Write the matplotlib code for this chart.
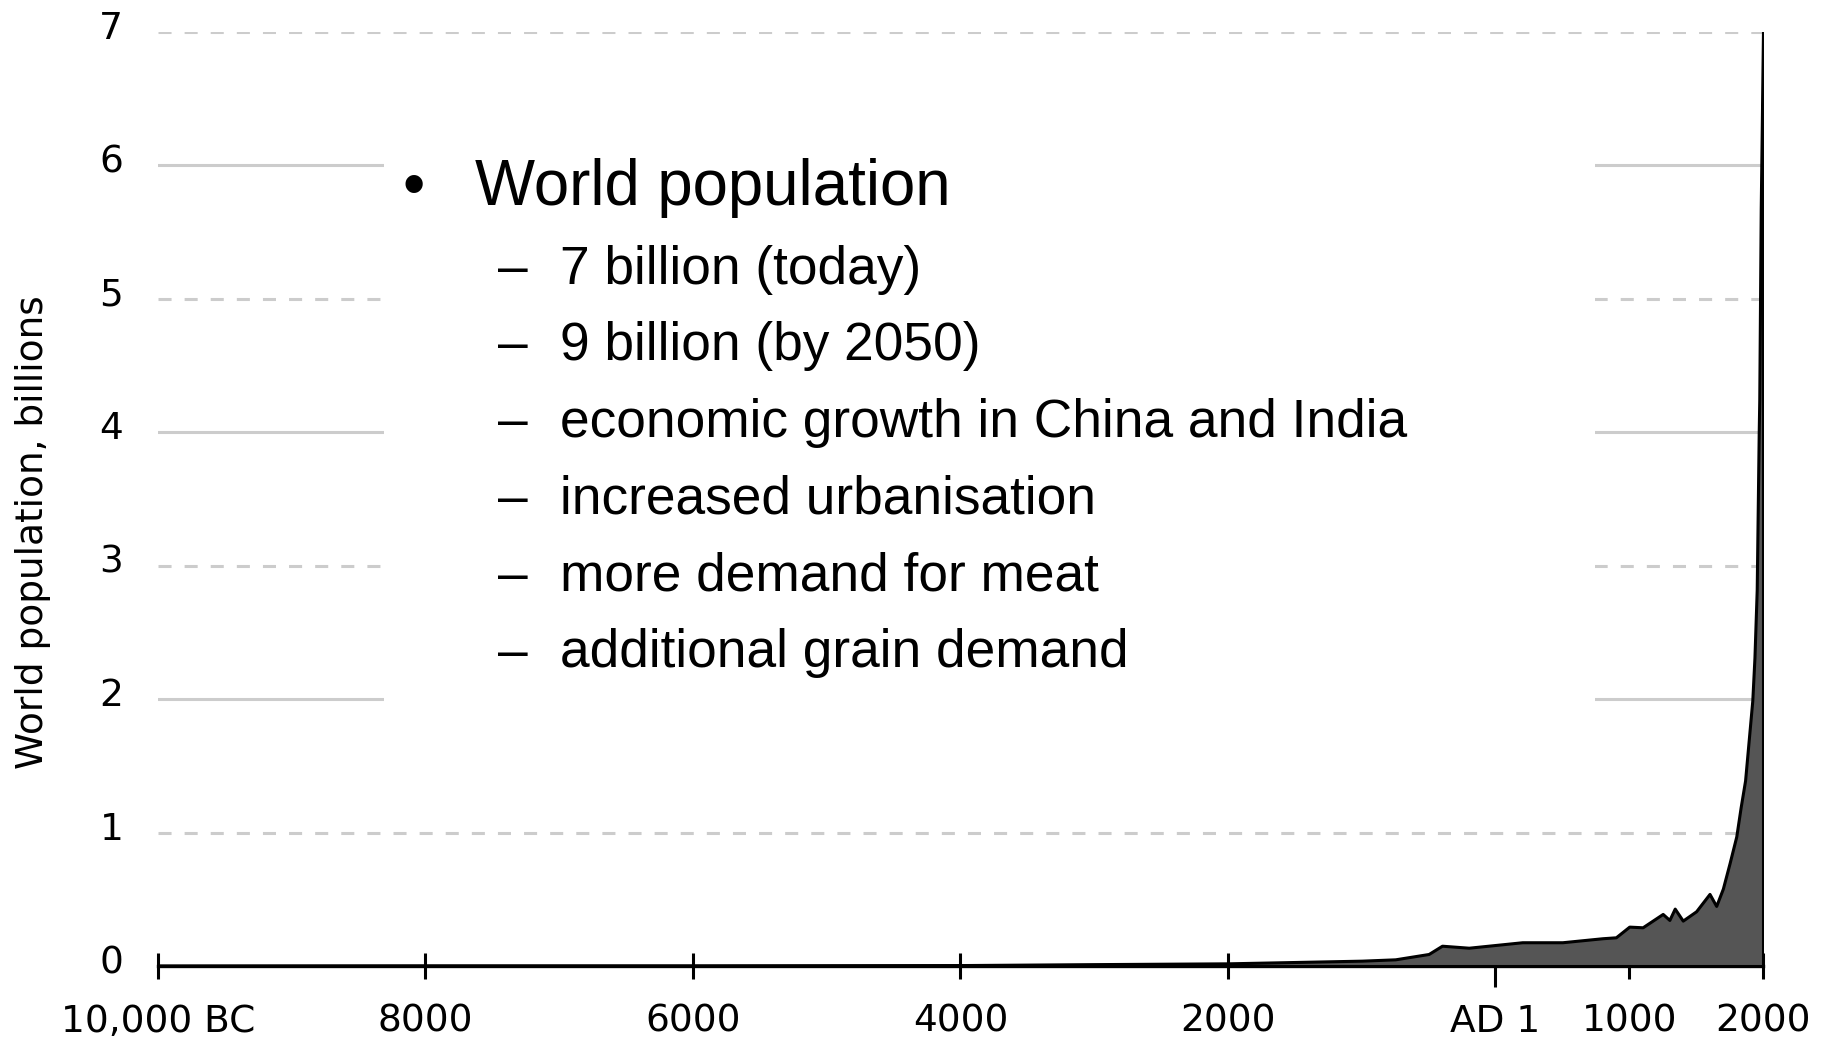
import matplotlib
matplotlib.use("Agg")
import matplotlib.pyplot as plt
from matplotlib.patches import Rectangle
from matplotlib.transforms import ScaledTranslation

# world population estimates (billions)
years = [-10000, -8000, -6000, -4000, -3000, -2000, -1000, -750, -500, -400,
         -200, 200, 500, 800, 900, 1000, 1100, 1250, 1300, 1340, 1400, 1500,
         1600, 1650, 1700, 1750, 1800, 1833, 1866, 1920, 1936, 1953, 1968,
         1972, 1983, 2000]
population = [0.004, 0.005, 0.005, 0.007, 0.014, 0.02, 0.04, 0.05, 0.09, 0.152,
              0.137, 0.178, 0.178, 0.208, 0.215, 0.295, 0.29, 0.39, 0.345, 0.43,
              0.34, 0.41, 0.54, 0.45, 0.58, 0.77, 0.97, 1.19, 1.39, 1.99, 2.31,
              2.82, 4.0, 4.24, 5.67, 7.0]

x_ticks = [-10000, -8000, -6000, -4000, -2000, 0, 1000, 2000]
x_labels = ["10,000 BC", "8000", "6000", "4000", "2000", "AD 1", "1000", "2000"]
y_ticks = [0, 1, 2, 3, 4, 5, 6, 7]

heading = "World population"
points = ["7 billion (today)", "9 billion (by 2050)",
          "economic growth in China and India", "increased urbanisation",
          "more demand for meat", "additional grain demand"]

W, H = 1825, 1042
plt.rcParams["lines.scale_dashes"] = False
fig = plt.figure(figsize=(W / 100, H / 100), dpi=100)
ax = fig.add_axes([158 / W, 1 - 966 / H, (1763 - 158) / W, (966 - 31.6) / H])

ax.set_xlim(-10000, 2000)
ax.set_ylim(0, 7)

# gridlines: dashed on odd values, solid on even
for v in y_ticks[1:]:
    if v % 2:
        ax.axhline(v, color="#cccccc", lw=2.2, ls=(0, (9.4, 9.4)), zorder=0.5)
    else:
        ax.axhline(v, color="#cccccc", lw=2.2, zorder=0.5)

# white slide text box covering the middle of the grid
ax.add_patch(Rectangle((384 / W, 1 - 760 / H), (1595 - 384) / W, (760 - 70) / H,
                       transform=fig.transFigure, facecolor="white",
                       edgecolor="none", zorder=0.8))

ax.fill_between(years, population, 0, facecolor="#555555", edgecolor="black",
                lw=2.2, zorder=3)

for s in ["top", "right", "left"]:
    ax.spines[s].set_visible(False)
ax.spines["bottom"].set_linewidth(2.4)
ax.spines["bottom"].set_zorder(2.5)

ax.set_xticks(x_ticks)
ax.set_xticklabels(x_labels)
ax.set_yticks(y_ticks)
ax.tick_params(axis="x", direction="inout", length=18.7, width=2.2,
               pad=18, labelsize=27)
ax.tick_params(axis="y", length=0, pad=25, labelsize=27)
ax.xaxis.get_major_ticks()[5].tick1line.set_markersize(30)

# y labels sit a little above their gridlines
shift = ScaledTranslation(0, 5 / 72, fig.dpi_scale_trans)
for lab in ax.get_yticklabels():
    lab.set_transform(lab.get_transform() + shift)

fig.text(33 / W, 1 - 532 / H, "World population, billions", rotation=90,
         ha="center", va="center", fontsize=27)

# slide bullet text
sans = "Liberation Sans"
fig.text(414 / W, 1 - 206 / H, "\u2022", fontsize=45.8, family=sans,
         ha="center", va="baseline")
fig.text(475 / W, 1 - 205 / H, heading, fontsize=45.8, family=sans,
         ha="left", va="baseline")
for i, txt in enumerate(points):
    yb = 1 - (283.5 + i * 76.8) / H
    fig.text(513 / W, yb, "\u2013", fontsize=38.3, family=sans,
             ha="center", va="baseline")
    fig.text(560 / W, yb, txt, fontsize=38.3, family=sans,
             ha="left", va="baseline")

fig.savefig("out.png", dpi=100, facecolor="white")
